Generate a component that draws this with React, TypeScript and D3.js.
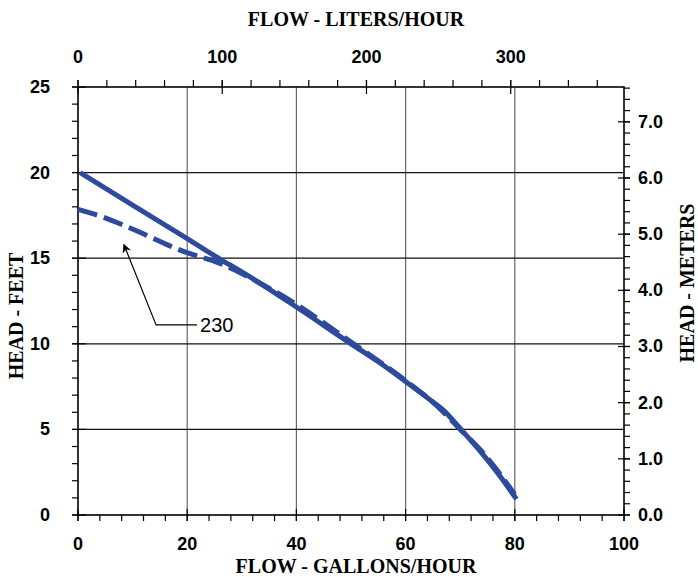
import React from "react";
import * as d3 from "d3";

const W = 698;
const H = 577;

// Data (flow in gallons/hour, head in feet)
const solidFlow = [0.4, 10, 20, 26, 30, 40, 50, 55, 60, 65, 67, 70, 74, 77, 80.3];
const solidHead = [20.0, 18.1, 16.15, 14.95, 14.2, 12.15, 10.0, 8.95, 7.8, 6.6, 6.1, 5.05, 3.6, 2.4, 0.93];
const dashFlow = [0, 4.6, 10.7, 19.3, 26, 30, 40, 50, 60, 66, 70, 74, 80];
const dashHead = [17.85, 17.4, 16.6, 15.4, 14.7, 14.1, 12.3, 10.1, 7.85, 6.3, 5.0, 3.7, 1.2];

const galTicks = [0, 20, 40, 60, 80, 100];
const literTicks = [0, 100, 200, 300];
const feetTicks = [0, 5, 10, 15, 20, 25];
const meterTicks = [0, 1, 2, 3, 4, 5, 6, 7];

const annotationLabel = "230";
const annotationTip = [8.4, 15.8];
const annotationElbow = [14.3, 11.1];
const annotationEnd = [21.8, 11.1];

const LITERS_PER_GAL = 3.78541;
const M_PER_FT = 0.3048;

const color = "#2d4a9c";
const sans = "'Liberation Sans', Arial, sans-serif";
const serif = "'Liberation Serif', 'Times New Roman', serif";

export default function App() {
  const left = 78, right = 624, top = 87, bottom = 515;
  const x = d3.scaleLinear().domain([0, 100]).range([left, right]);
  const y = d3.scaleLinear().domain([0, 25]).range([bottom, top]);
  const xL = d3.scaleLinear().domain([0, 100 * LITERS_PER_GAL]).range([left, right]);
  const yM = d3.scaleLinear().domain([0, 25 * M_PER_FT]).range([bottom, top]);

  const line = d3
    .line<[number, number]>()
    .x((d) => x(d[0]))
    .y((d) => y(d[1]))
    .curve(d3.curveMonotoneX);

  const solid = line(solidFlow.map((f, i) => [f, solidHead[i]]) as [number, number][]) || "";
  const dashed = line(dashFlow.map((f, i) => [f, dashHead[i]]) as [number, number][]) || "";

  const minorGal = d3.range(0, 100.001, 4);
  const minorL = d3.range(0, 100 * LITERS_PER_GAL, 20);
  const minorFt = d3.range(0, 25.001, 1);
  const minorM = d3.range(0, 25 * M_PER_FT + 0.001, 0.2);

  const tickStroke = { stroke: "#000", strokeWidth: 1.2 };

  return (
    <svg width={W} height={H} style={{ position: "absolute", left: 0, top: 0, background: "#fff" }}>
      <defs>
        <marker id="arr" viewBox="0 0 10 10" refX="9" refY="5" markerWidth="9" markerHeight="9" orient="auto-start-reverse" markerUnits="userSpaceOnUse">
          <path d="M0,0 L10,5 L0,10 L3,5 Z" fill="#000" />
        </marker>
      </defs>
      {/* grid */}
      {galTicks.slice(1, -1).map((g) => (
        <line key={"vg" + g} x1={x(g)} x2={x(g)} y1={top} y2={bottom} stroke="#666" strokeWidth={1.2} />
      ))}
      {feetTicks.slice(1, -1).map((f) => (
        <line key={"hg" + f} x1={left} x2={right} y1={y(f)} y2={y(f)} stroke="#111" strokeWidth={1.2} />
      ))}

      {/* bottom ticks */}
      {minorGal.map((g) => (
        <line key={"bm" + g} x1={x(g)} x2={x(g)} y1={bottom} y2={bottom + 6} {...tickStroke} />
      ))}
      {galTicks.map((g) => (
        <line key={"bM" + g} x1={x(g)} x2={x(g)} y1={bottom - 6} y2={bottom + 6} {...tickStroke} />
      ))}
      {/* top ticks */}
      {minorL.map((l) => (
        <line key={"tm" + l} x1={xL(l)} x2={xL(l)} y1={top - 7} y2={top} {...tickStroke} />
      ))}
      {literTicks.map((l) => (
        <line key={"tM" + l} x1={xL(l)} x2={xL(l)} y1={top - 7} y2={top + 7} {...tickStroke} />
      ))}
      {/* left ticks */}
      {minorFt.map((f) => (
        <line key={"lm" + f} x1={left - 6} x2={left} y1={y(f)} y2={y(f)} {...tickStroke} />
      ))}
      {feetTicks.map((f) => (
        <line key={"lM" + f} x1={left - 6} x2={left + 8} y1={y(f)} y2={y(f)} {...tickStroke} />
      ))}
      {/* right ticks */}
      {minorM.map((m) => (
        <line key={"rm" + m} x1={right} x2={right + 6} y1={yM(m)} y2={yM(m)} {...tickStroke} />
      ))}
      {meterTicks.map((m) => (
        <line key={"rM" + m} x1={right - 6} x2={right + 6} y1={yM(m)} y2={yM(m)} {...tickStroke} />
      ))}

      {/* frame */}
      <rect x={left} y={top} width={right - left} height={bottom - top} fill="none" stroke="#000" strokeWidth={1.6} />

      {/* curves */}
      <path d={solid} fill="none" stroke={color} strokeWidth={5} />
      <path d={dashed} fill="none" stroke={color} strokeWidth={5} strokeDasharray="20,7" />

      {/* annotation */}
      <polyline
        points={[annotationEnd, annotationElbow, annotationTip].map((p) => `${x(p[0])},${y(p[1])}`).join(" ")}
        fill="none"
        stroke="#000"
        strokeWidth={1.2}
        markerEnd="url(#arr)"
      />
      <text x={x(annotationEnd[0]) + 3} y={y(annotationEnd[1])} dominantBaseline="central" fontFamily={sans} fontSize={20}>
        {annotationLabel}
      </text>

      {/* tick labels */}
      {galTicks.map((g) => (
        <text key={"bl" + g} x={x(g)} y={550} textAnchor="middle" fontFamily={sans} fontWeight="bold" fontSize={18}>
          {g}
        </text>
      ))}
      {literTicks.map((l) => (
        <text key={"tl" + l} x={xL(l)} y={63} textAnchor="middle" fontFamily={sans} fontWeight="bold" fontSize={18}>
          {l}
        </text>
      ))}
      {feetTicks.map((f) => (
        <text key={"ll" + f} x={50} y={y(f)} textAnchor="end" dominantBaseline="central" fontFamily={sans} fontWeight="bold" fontSize={18}>
          {f}
        </text>
      ))}
      {meterTicks.map((m) => (
        <text key={"rl" + m} x={638} y={yM(m)} dominantBaseline="central" fontFamily={sans} fontWeight="bold" fontSize={18}>
          {m.toFixed(1)}
        </text>
      ))}

      {/* titles */}
      <text x={356} y={26} textAnchor="middle" fontFamily={serif} fontWeight="bold" fontSize={20}>
        FLOW - LITERS/HOUR
      </text>
      <text x={356} y={573} textAnchor="middle" fontFamily={serif} fontWeight="bold" fontSize={20}>
        FLOW - GALLONS/HOUR
      </text>
      <text transform={`translate(23,316) rotate(-90)`} textAnchor="middle" fontFamily={serif} fontWeight="bold" fontSize={20}>
        HEAD - FEET
      </text>
      <text transform={`translate(694,283) rotate(-90)`} textAnchor="middle" fontFamily={serif} fontWeight="bold" fontSize={20}>
        HEAD - METERS
      </text>
    </svg>
  );
}
